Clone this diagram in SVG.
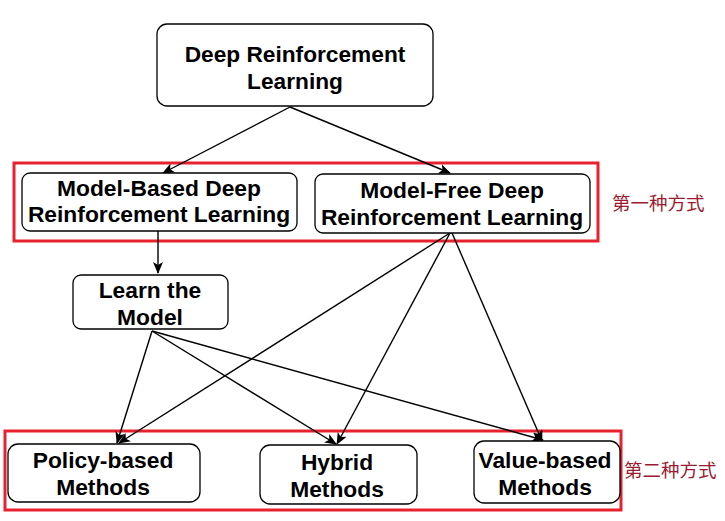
<svg xmlns="http://www.w3.org/2000/svg" width="725" height="521" viewBox="0 0 725 521">
<style>
.box{fill:#fff;stroke:#000;stroke-width:1.3}
.t{font-family:"Liberation Sans",Arial,sans-serif;font-weight:bold;fill:#000;text-anchor:middle}
.t22{font-size:22.7px}
.t20{font-size:22.8px}
.red{fill:none;stroke:#E8212F;stroke-width:3}
.cn{font-family:"Noto Sans CJK SC",sans-serif;font-size:18.5px;fill:#9B1B30}
.c{stroke:#000;stroke-width:1.4;fill:none;marker-end:url(#arr)}
</style>
<defs>
<marker id="arr" viewBox="0 0 12 10" refX="11" refY="5" markerWidth="12" markerHeight="10" markerUnits="userSpaceOnUse" orient="auto">
<path d="M0,0 L12,5 L0,10 L3,5 z" fill="#000"/>
</marker>
</defs>
<g id="frames">
<rect class="red" x="14" y="163" width="584" height="78"/>
<rect class="red" x="5" y="431" width="616" height="79"/>
<text class="cn" x="612" y="210">第一种方式</text>
<text class="cn" x="624" y="477">第二种方式</text>
</g>
<g id="connectors">
<line class="c" x1="290" y1="107" x2="163" y2="173"/>
<line class="c" x1="290" y1="107" x2="450" y2="173"/>
<line class="c" x1="158" y1="231" x2="158" y2="273"/>
<line class="c" x1="450" y1="233" x2="119" y2="443"/>
<line class="c" x1="450" y1="233" x2="337" y2="444"/>
<line class="c" x1="452" y1="233" x2="542" y2="441"/>
<line class="c" x1="152" y1="331" x2="117" y2="443"/>
<line class="c" x1="152" y1="331" x2="336" y2="444"/>
<line class="c" x1="152" y1="331" x2="543" y2="440"/>
</g>
<g id="drl">
<rect class="box" x="157" y="24" width="276" height="82" rx="10"/>
<text class="t t22" x="295" y="62">Deep Reinforcement</text>
<text class="t t22" x="295" y="89">Learning</text>
</g>
<g id="model-based">
<rect class="box" x="22" y="173" width="275" height="58" rx="8"/>
<text class="t t20" x="159" y="196">Model-Based Deep</text>
<text class="t t20" x="159" y="222">Reinforcement Learning</text>
</g>
<g id="model-free">
<rect class="box" x="315" y="174" width="275" height="59" rx="8"/>
<text class="t t20" x="452" y="198">Model-Free Deep</text>
<text class="t t20" x="452" y="225">Reinforcement Learning</text>
</g>
<g id="learn">
<rect class="box" x="73" y="275" width="155" height="54" rx="8"/>
<text class="t t20" x="150" y="298">Learn the</text>
<text class="t t20" x="150" y="325">Model</text>
</g>
<g id="policy">
<rect class="box" x="8" y="444" width="192" height="58" rx="10"/>
<text class="t t20" x="103" y="468">Policy-based</text>
<text class="t t20" x="103" y="495">Methods</text>
</g>
<g id="hybrid">
<rect class="box" x="260" y="445" width="157" height="59" rx="10"/>
<text class="t t20" x="337" y="470">Hybrid</text>
<text class="t t20" x="337" y="497">Methods</text>
</g>
<g id="value">
<rect class="box" x="474" y="441" width="146" height="62" rx="10"/>
<text class="t t20" x="545" y="468">Value-based</text>
<text class="t t20" x="545" y="495">Methods</text>
</g>
</svg>
